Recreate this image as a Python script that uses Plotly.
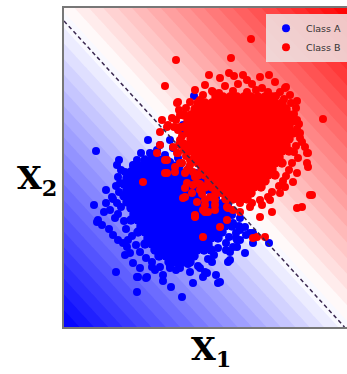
import numpy as np
import plotly.graph_objects as go

# ---- data (units = picture pixels, y grows downward) ----
class_a_outer = [
    (96,151),(148,140),(141,153),(119,160),(117,165),(133,165),(125,172),(118,177),(120,183),
    (128,182),(132,188),(94,205),(106,203),(104,212),(98,220),(117,203),(150,153),(157,150),
    (97,222),(102,225),(109,229),(116,272),(137,292),(138,277),(146,278),(163,275),(163,281),
    (171,287),(182,297),(193,283),(205,272),(216,275),(220,282),(228,262),(245,253),(253,243),
    (269,243),(237,240),(237,247),(133,263),(152,267),(170,268),(190,272),(207,273),(123,243),
    (130,253),(194,96),(183,125),(185,132),(170,140),(173,148),(182,127),(106,190),(112,197),
    (110,210),(115,218),(113,235),(118,240),(125,255),(140,268),(155,270),(176,270),(200,268),
    (212,262),(230,252),(240,240),(246,235),(236,233),(226,250),(233,247),(240,230),(253,233),
    (230,260),(218,283),(203,277),(147,277),(137,277),(127,247),(222,217),(233,223),(245,227),
    (250,233),(240,218),(165,155),(178,158),(160,145),
    # ragged edge of the dense part
    (121,170),(116,186),(119,192),(113,199),(121,207),(118,214),(124,221),(126,229),(132,236),
    (128,240),(136,245),(140,252),(146,258),(152,262),(160,267),(170,266),(180,268),(188,264),
    (198,266),(208,259),(214,255),(218,248),(226,243),(229,237),(236,238),(239,226),(232,215),
    (137,160),(152,156),(160,160),(170,162),(180,165),(189,168),(196,173),(203,180),(207,186),
    (211,192),(216,198),(222,203),(228,205),
]
# dense core of class A: (row y, x positions along the row)
class_a_core_rows = [
    (160, [145,152,159,166]),
    (166, [134,141,148,155,162,169,176]),
    (172, [131,138,145,152,159,166,173,180,187]),
    (178, [127,134,141,148,155,162,169,176,183,190,197]),
    (184, [124,131,138,145,152,159,166,173,180,187,194]),
    (190, [127,134,141,148,155,162,169,176,183,190,197,204]),
    (196, [124,131,138,145,152,159,166,173,180,187,194,201]),
    (202, [127,134,141,148,155,162,169,176,183,190,197,204,211]),
    (208, [131,138,145,152,159,166,173,180,187,194,201,208,215,222]),
    (214, [134,141,148,155,162,169,176,183,190,197,204,211,218,225]),
    (220, [131,138,145,152,159,166,173,180,187,194,201,208,215,222]),
    (226, [141,148,155,162,169,176,183,190,197,204,211,218,225,232]),
    (232, [138,145,152,159,166,173,180,187,194,201,208,215,222]),
    (238, [148,155,162,169,176,183,190,197,204,211,218]),
    (244, [145,152,159,166,173,180,187,194,201,208]),
    (250, [155,162,169,176,183,190,197,204,211]),
    (256, [159,166,173,180,187,194]),
    (262, [169,176,183,190]),
]

class_b_outer = [
    (251,39),(176,60),(231,58),(165,86),(178,102),(323,119),(286,87),(209,75),(220,78),(229,73),
    (234,76),(243,75),(247,80),(260,77),(269,75),(285,88),(297,101),(297,120),(298,133),(302,142),
    (307,153),(308,167),(312,195),(302,207),(297,208),(272,212),(260,217),(257,237),(265,237),
    (253,238),(203,237),(195,216),(185,197),(167,173),(165,160),(157,153),(160,145),(220,227),
    (227,220),(143,182),(160,132),(167,127),(177,153),(175,172),(185,188),(205,212),(162,120),
    (174,127),(177,103),(195,90),(205,85),(213,92),(225,86),(238,84),(252,84),(262,88),(275,82),
    (280,92),(290,95),(200,100),(186,108),(180,115),(172,118),(168,125),(293,117),(300,133),
    (305,147),(308,153),(307,163),(297,173),(293,182),(285,187),(280,193),(310,195),
    (205,205),(215,210),(228,208),(240,212),(250,207),(262,205),(270,200),
    (183,143),(178,153),(182,163),(190,160),(185,173),(193,172),(187,183),(197,183),(192,193),
    (200,190),(205,200),(197,202),(203,210),(208,212),(215,205),(227,207),(233,210),(240,203),
    (195,215),(165,173),(175,167),(167,160),(180,163),(187,170),(183,198),(195,217),(193,185),
    (180,127),(180,140),(173,147),
    # ragged edge of the dense part
    (203,95),(212,91),(219,93),(233,91),(247,92),(256,90),(268,92),(276,96),(284,99),(291,103),
    (296,108),(294,114),(299,124),(297,129),(300,138),(296,146),(294,152),(298,158),(292,163),
    (289,170),(286,176),(283,181),(279,186),(272,192),(268,197),(260,200),(252,203),
    (179,110),(190,102),(176,120),(178,130),(182,136),(179,145),(184,150),(186,156),(190,165),
    (195,177),(200,184),(202,194),(210,197),(215,200),
]
# dense core of class B: (row y, x positions along the row)
class_b_core_rows = [
    (97,  [216,223,230,237,244,251,258,265,272]),
    (103, [198,205,212,219,226,233,240,247,254,261,268,275,282]),
    (109, [195,202,209,216,223,230,237,244,251,258,265,272,279,286]),
    (115, [184,191,198,205,212,219,226,233,240,247,254,261,268,275,282,289]),
    (121, [188,195,202,209,216,223,230,237,244,251,258,265,272,279,286,293]),
    (127, [184,191,198,205,212,219,226,233,240,247,254,261,268,275,282,289]),
    (133, [188,195,202,209,216,223,230,237,244,251,258,265,272,279,286,293]),
    (139, [191,198,205,212,219,226,233,240,247,254,261,268,275,282,289]),
    (145, [188,195,202,209,216,223,230,237,244,251,258,265,272,279,286]),
    (151, [191,198,205,212,219,226,233,240,247,254,261,268,275,282,289]),
    (157, [195,202,209,216,223,230,237,244,251,258,265,272,279]),
    (163, [198,205,212,219,226,233,240,247,254,261,268,275,282]),
    (169, [202,209,216,223,230,237,244,251,258,265,272]),
    (175, [198,205,212,219,226,233,240,247,254,261,268,275]),
    (181, [209,216,223,230,237,244,251,258,265]),
    (187, [205,212,219,226,233,240,247,254,261]),
    (193, [216,223,230,237,244,251]),
    (199, [226,233,240,247]),
]

class_names = ["Class A", "Class B"]
class_colors = ["#0000ff", "#ff0000"]

# decision boundary (dashed line) end points, and the range of the colour field
boundary_x = [64, 344.5]
boundary_y = [21, 327]
white_offset = 6        # zero of the field lies slightly on the red side of the line
field_span = 212        # distance at which the colour saturates

x_range = [64, 347]
y_range = [327, 8]


def rows_to_xy(rows):
    xs, ys = [], []
    for y, xrow in rows:
        for x in xrow:
            xs.append(x)
            ys.append(y)
    return xs, ys


# ---- background field (signed distance to the boundary) ----
gx = np.linspace(x_range[0], x_range[1], 120)
gy = np.linspace(y_range[1], y_range[0], 130)
GX, GY = np.meshgrid(gx, gy)
dx, dy = boundary_x[1] - boundary_x[0], boundary_y[1] - boundary_y[0]
L = np.hypot(dx, dy)
nx, ny = dy / L, -dx / L
S = (GX - boundary_x[0]) * nx + (GY - boundary_y[0]) * ny - white_offset
Z = np.clip(S / field_span, -1, 1)

fig = go.Figure()
fig.add_trace(go.Contour(
    x=gx, y=gy, z=Z, showscale=False, hoverinfo="skip",
    colorscale=[[0, "rgb(0,0,255)"], [0.5, "rgb(255,255,255)"], [1, "rgb(255,0,0)"]],
    zmin=-1, zmax=1,
    contours=dict(start=-1, end=1, size=0.05, coloring="fill", showlines=False),
    line=dict(width=0), showlegend=False,
))

for outer, core_rows, name, col in zip([class_a_outer, class_b_outer],
                                       [class_a_core_rows, class_b_core_rows],
                                       class_names, class_colors):
    cx, cy = rows_to_xy(core_rows)
    fig.add_trace(go.Scatter(
        x=cx, y=cy, mode="markers", name=name, legendgroup=name, showlegend=False,
        marker=dict(color=col, size=9.5, line=dict(width=0)), hoverinfo="skip",
    ))
    fig.add_trace(go.Scatter(
        x=[p[0] for p in outer], y=[p[1] for p in outer], mode="markers",
        name=name, legendgroup=name,
        marker=dict(color=col, size=8, line=dict(width=0)),
    ))

fig.add_trace(go.Scatter(
    x=boundary_x, y=boundary_y, mode="lines", showlegend=False,
    line=dict(color="#3a2850", width=1.5, dash="4px,3px"),
))

fig.add_annotation(x=-0.095, y=0.46, xref="paper", yref="paper", showarrow=False,
                   text="X<sub>2</sub>", xanchor="center", yanchor="middle",
                   font=dict(family="DejaVu Serif", size=32, color="black", weight="bold"))
fig.add_annotation(x=0.52, y=-0.075, xref="paper", yref="paper", showarrow=False,
                   text="X<sub>1</sub>", xanchor="center", yanchor="middle",
                   font=dict(family="DejaVu Serif", size=32, color="black", weight="bold"))

fig.update_layout(
    width=347, height=374,
    margin=dict(l=64, r=0, t=8, b=47),
    paper_bgcolor="white", plot_bgcolor="white",
    xaxis=dict(range=x_range, showgrid=False, zeroline=False, showticklabels=False,
               ticks="", showline=True, linecolor="#777777", linewidth=2, mirror=True),
    yaxis=dict(range=y_range, showgrid=False, zeroline=False, showticklabels=False,
               ticks="", showline=True, linecolor="#777777", linewidth=2, mirror=False),
    legend=dict(x=1, xanchor="right", y=0.982, yanchor="top",
                bgcolor="rgba(238,232,232,0.85)", borderwidth=0,
                font=dict(family="DejaVu Sans", size=9.5, color="#333333"),
                itemwidth=30, tracegroupgap=0),
    showlegend=True,
)

fig.write_html("out.html", config={"displayModeBar": False},
               post_script="document.body.style.margin='0';document.body.style.padding='0';")
